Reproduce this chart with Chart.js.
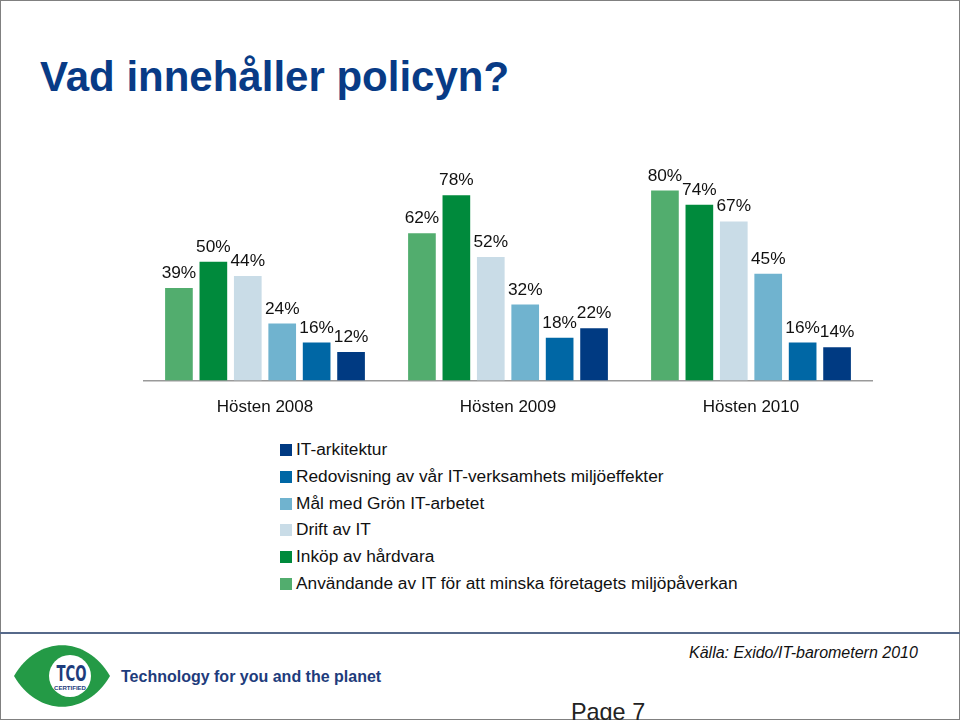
<!DOCTYPE html>
<html>
<head>
<meta charset="utf-8">
<script src="https://cdn.jsdelivr.net/npm/chart.js@4/dist/chart.umd.min.js"></script>
<style>
    html, body { margin: 0; padding: 0; background: #fff; }
    #page {
        position: relative; width: 960px; height: 720px; overflow: hidden;
        font-family: "Liberation Sans", Arial, sans-serif;
    }
    #deco { position: absolute; left: 0; top: 0; }
    #chart { position: absolute; left: 0; top: 0; }
    #legend { position: absolute; left: 280px; top: 436px; }
    #legend .row { height: 26.8px; line-height: 26.8px; font-size: 17.3px; color: #111; white-space: nowrap; }
    #legend .box { display: inline-block; width: 12px; height: 12px; margin-right: 4px; vertical-align: -1px; }
</style>
</head>
<body>
<div id="page">
    <svg id="deco" width="960" height="720">
        <rect x="0.5" y="0.5" width="959" height="719" fill="none" stroke="#808080" stroke-width="1"/>
        <text x="40" y="91" font-family="Liberation Sans, Arial" font-weight="bold" font-size="42" fill="#083b86">Vad innehåller policyn?</text>
        <rect x="0" y="632" width="960" height="2" fill="#56698a"/>
        <path d="M14,676 C38,635 86,635 110,676 C86,717 38,717 14,676 Z" fill="#249a46"/>
        <circle cx="70" cy="676" r="21" fill="#fff"/>
        <text x="56.5" y="680.5" font-family="Liberation Sans Narrow, DejaVu Sans Condensed, Liberation Sans" font-weight="bold" font-size="22" fill="#1e3c7c" textLength="30" lengthAdjust="spacingAndGlyphs">TCO</text>
        <text x="54" y="690" font-family="Liberation Sans, Arial" font-weight="bold" font-size="5.5" fill="#1e3c7c" textLength="32" lengthAdjust="spacingAndGlyphs">CERTIFIED</text>
        <text x="121" y="682" font-family="Liberation Sans, Arial" font-weight="bold" font-size="16" fill="#1e3c7c">Technology for you and the planet</text>
        <text x="689" y="658" font-family="Liberation Sans, Arial" font-style="italic" font-size="16" fill="#111">Källa: Exido/IT-barometern 2010</text>
        <text x="571" y="720" font-family="Liberation Sans, Arial" font-size="23.4" fill="#222">Page 7</text>
    </svg>
    <canvas id="chart" width="960" height="435"></canvas>
    <div id="legend"></div>
</div>
<script>
"use strict";

const categories = ["Hösten 2008", "Hösten 2009", "Hösten 2010"];
const seriesNames = [
    "Användande av IT för att minska företagets miljöpåverkan",
    "Inköp av hårdvara",
    "Drift av IT",
    "Mål med Grön IT-arbetet",
    "Redovisning av vår IT-verksamhets miljöeffekter",
    "IT-arkitektur"
];
const anvandande = [39, 62, 80];
const inkop = [50, 78, 74];
const drift = [44, 52, 67];
const malGronIt = [24, 32, 45];
const redovisning = [16, 18, 16];
const itArkitektur = [12, 22, 14];
const seriesColors = ["#52ad6e", "#008a3c", "#c9dce7", "#70b3cf", "#0067a5", "#003a82"];

const seriesValues = [anvandande, inkop, drift, malGronIt, redovisning, itArkitektur];

const valueLabels = {
    id: "valueLabels",
    afterDatasetsDraw(chart) {
        const ctx = chart.ctx;
        ctx.save();
        ctx.font = "17.3px 'Liberation Sans', Arial";
        ctx.fillStyle = "#111";
        ctx.textAlign = "center";
        ctx.textBaseline = "alphabetic";
        chart.data.datasets.forEach(function (ds, i) {
            chart.getDatasetMeta(i).data.forEach(function (bar, j) {
                ctx.fillText(ds.data[j] + "%", bar.x, bar.y - 10);
            });
        });
        ctx.restore();
    }
};

Chart.defaults.font.family = "'Liberation Sans', Arial, sans-serif";

let chart = new Chart(document.getElementById("chart"), {
    type: "bar",
    data: {
        labels: categories,
        datasets: seriesNames.map(function (name, i) {
            return {
                label: name,
                data: seriesValues[i],
                backgroundColor: seriesColors[i],
                barPercentage: 0.804,
                categoryPercentage: 0.85
            };
        })
    },
    options: {
        responsive: false,
        animation: false,
        devicePixelRatio: 1,
        layout: {
            padding: { left: 143.5, right: 87.5, top: 143, bottom: 0 }
        },
        plugins: {
            legend: { display: false },
            tooltip: { enabled: false }
        },
        scales: {
            x: {
                grid: { display: false, drawTicks: false },
                border: { display: true, color: "#9a9a9a", width: 1.5 },
                ticks: { color: "#111", font: { size: 17 }, padding: 17 }
            },
            y: {
                display: false,
                min: 0,
                max: 100
            }
        }
    },
    plugins: [valueLabels]
});

// legend listed bottom series first, like the original slide
let legend = document.getElementById("legend");
chart.data.datasets.slice().reverse().forEach(function (ds) {
    let row = document.createElement("div");
    row.className = "row";
    row.innerHTML = '<span class="box" style="background:' + ds.backgroundColor + '"></span>' + ds.label;
    legend.appendChild(row);
});
</script>
</body>
</html>
